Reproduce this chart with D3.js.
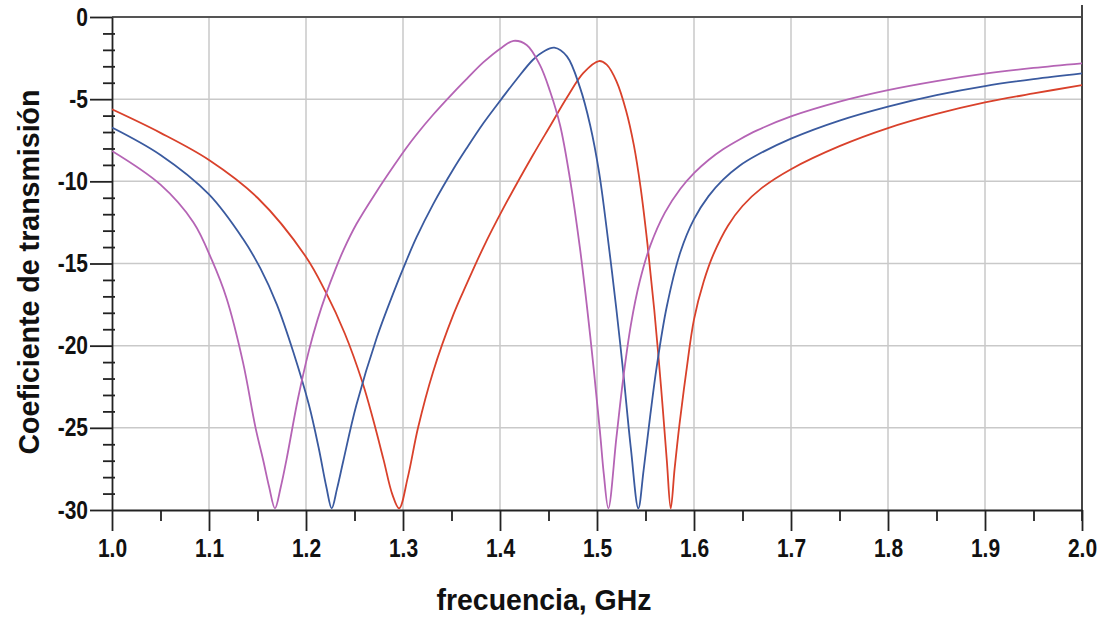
<!DOCTYPE html>
<meta charset="utf-8">
<script src="https://d3js.org/d3.v7.min.js"></script>
<style type="text/css">
body { margin: 0; background: #fff; }
.grid line { stroke: #c9c9c9; stroke-width: 1.5; }
.eixo text { font-family: "Liberation Sans", Arial, sans-serif; font-weight: bold; fill: #111; }
.eixo path, .eixo line { stroke: #222; stroke-width: 1.8; }
.titulo { font-family: "Liberation Sans", Arial, sans-serif; font-weight: bold; fill: #111; }
.curva { fill: none; stroke-width: 1.8; }
</style>
<body>
<div id="canvas"></div>
<script>
// tick labels
var xTicks = [1.0, 1.1, 1.2, 1.3, 1.4, 1.5, 1.6, 1.7, 1.8, 1.9, 2.0];
var xMinor = [1.05, 1.15, 1.25, 1.35, 1.45, 1.55, 1.65, 1.75, 1.85, 1.95];
var yTicks = [0, -5, -10, -15, -20, -25, -30];
var yMinor = [-1, -2, -3, -4, -6, -7, -8, -9, -11, -12, -13, -14, -16, -17, -18, -19, -21, -22, -23, -24, -26, -27, -28, -29];

// series [frecuencia GHz, dB]
var serieRoja = [[1.000,-5.62],[1.050,-7.05],[1.100,-8.7],[1.150,-11.0],[1.200,-14.6],[1.220,-16.7],[1.240,-19.26],[1.258,-22.2],[1.269,-24.45],[1.280,-26.95],[1.289,-29.05],[1.296,-29.9],[1.305,-28.0],[1.3155,-25.0],[1.331,-21.6],[1.352,-18.1],[1.366,-16.2],[1.383,-14.0],[1.402,-11.8],[1.434,-8.4],[1.452,-6.6],[1.469,-4.9],[1.486,-3.4],[1.502,-2.68],[1.510,-2.9],[1.520,-3.9],[1.530,-5.7],[1.538,-7.8],[1.545,-10.4],[1.552,-13.8],[1.559,-17.8],[1.566,-22.5],[1.572,-27.0],[1.576,-29.9],[1.580,-27.5],[1.585,-24.8],[1.592,-21.6],[1.600,-18.4],[1.610,-16.1],[1.620,-14.45],[1.635,-12.7],[1.650,-11.5],[1.670,-10.4],[1.700,-9.26],[1.750,-7.86],[1.800,-6.76],[1.850,-5.9],[1.900,-5.2],[1.950,-4.65],[2.000,-4.15]];
var serieAzul = [[1.000,-6.73],[1.050,-8.4],[1.100,-10.8],[1.135,-13.5],[1.153,-15.3],[1.170,-17.5],[1.187,-20.4],[1.203,-23.6],[1.213,-26.2],[1.221,-28.6],[1.2265,-29.9],[1.232,-28.7],[1.2385,-27.0],[1.252,-23.6],[1.273,-19.5],[1.290,-16.8],[1.303,-14.9],[1.314,-13.4],[1.331,-11.4],[1.352,-9.25],[1.366,-7.95],[1.383,-6.45],[1.402,-4.95],[1.417,-3.8],[1.434,-2.6],[1.445,-2.1],[1.456,-1.87],[1.469,-2.4],[1.4825,-4.3],[1.493,-6.6],[1.502,-9.4],[1.510,-12.9],[1.520,-17.8],[1.527,-21.6],[1.535,-26.3],[1.5426,-29.9],[1.548,-27.6],[1.555,-24.2],[1.5615,-21.3],[1.572,-17.6],[1.586,-14.3],[1.600,-12.3],[1.615,-10.9],[1.630,-9.9],[1.647,-9.05],[1.665,-8.4],[1.700,-7.4],[1.750,-6.3],[1.800,-5.45],[1.850,-4.75],[1.900,-4.2],[1.950,-3.78],[2.000,-3.43]];
var serieMagenta = [[1.000,-8.15],[1.050,-10.2],[1.084,-12.5],[1.103,-14.8],[1.118,-17.1],[1.135,-21.0],[1.148,-25.0],[1.156,-27.0],[1.162,-28.6],[1.168,-29.9],[1.174,-28.6],[1.180,-26.9],[1.1918,-23.2],[1.203,-20.3],[1.212,-18.4],[1.221,-16.8],[1.230,-15.4],[1.2385,-14.2],[1.252,-12.6],[1.273,-10.6],[1.290,-9.1],[1.303,-8.0],[1.314,-7.15],[1.331,-5.95],[1.352,-4.6],[1.366,-3.75],[1.383,-2.75],[1.402,-1.85],[1.414,-1.45],[1.4275,-1.7],[1.441,-2.9],[1.4515,-4.5],[1.462,-6.6],[1.472,-9.8],[1.4825,-14.1],[1.493,-19.4],[1.503,-25.2],[1.507,-27.8],[1.5117,-29.9],[1.520,-25.6],[1.527,-22.0],[1.535,-18.7],[1.544,-16.1],[1.555,-13.9],[1.570,-11.9],[1.586,-10.45],[1.600,-9.5],[1.615,-8.7],[1.630,-8.05],[1.647,-7.45],[1.665,-6.9],[1.700,-6.05],[1.750,-5.15],[1.800,-4.45],[1.850,-3.9],[1.900,-3.45],[1.950,-3.1],[2.000,-2.82]];

var series = [
    { datos: serieRoja, color: "#d9412b" },
    { datos: serieAzul, color: "#3a5a9f" },
    { datos: serieMagenta, color: "#b564b5" }
];

var width = 1099;
var height = 617;
var margin = {top: 17, right: 17, bottom: 107, left: 112};
var estrecho = 0.84; // fonte condensada do original

var svg = d3.select('#canvas')
    .append("svg")
    .attr("width", width)
    .attr("height", height);

var w = width - margin.left - margin.right;
var h = height - margin.top - margin.bottom;

var g = svg.append("g")
    .attr("transform", "translate(" + margin.left + "," + margin.top + ")");

var x = d3.scaleLinear().domain([1.0, 2.0]).range([0, w]);
var y = d3.scaleLinear().domain([-30, 0]).range([h, 0]);

// grid
var grid = g.append("g").attr("class", "grid");
grid.selectAll(".gx")
    .data(xTicks.slice(1, -1))
    .enter().append("line")
    .attr("x1", function(d) { return x(d); })
    .attr("x2", function(d) { return x(d); })
    .attr("y1", 0).attr("y2", h);
grid.selectAll(".gy")
    .data(yTicks.slice(1, -1))
    .enter().append("line")
    .attr("x1", 0).attr("x2", w)
    .attr("y1", function(d) { return y(d); })
    .attr("y2", function(d) { return y(d); });

// marco superior y derecho
g.append("line")
    .attr("x1", 0).attr("x2", w)
    .attr("y1", y(0)).attr("y2", y(0))
    .style("stroke", "#555").style("stroke-width", 2);
g.append("line")
    .attr("x1", x(2)).attr("x2", x(2))
    .attr("y1", y(0) - 12).attr("y2", h + 11)
    .style("stroke", "#444").style("stroke-width", 2);

// eje X
var xAxis = d3.axisBottom(x)
    .tickValues(xTicks)
    .tickFormat(d3.format(".1f"))
    .tickSize(21)
    .tickSizeOuter(0);
var gx = g.append("g")
    .attr("class", "eixo")
    .attr("transform", "translate(0," + h + ")")
    .call(xAxis);
gx.selectAll("text")
    .style("font-size", "25px")
    .attr("y", 47)
    .attr("dy", 0)
    .attr("transform", "scale(" + estrecho + ",1)");

g.append("g")
    .attr("class", "eixo")
    .attr("transform", "translate(0," + h + ")")
    .call(d3.axisBottom(x).tickValues(xMinor).tickSize(11).tickFormat(""))
    .select(".domain").remove();

// eje Y (guion simple, como no original)
var yAxis = d3.axisLeft(y)
    .tickValues(yTicks)
    .tickFormat(function(d) { return String(d); })
    .tickSize(22)
    .tickSizeOuter(0);
var gy = g.append("g")
    .attr("class", "eixo")
    .call(yAxis);
gy.selectAll("text")
    .style("font-size", "25px")
    .attr("x", -24 / estrecho)
    .attr("transform", "scale(" + estrecho + ",1)");

g.append("g")
    .attr("class", "eixo")
    .attr("transform", "translate(3,0)")
    .call(d3.axisLeft(y).tickValues(yMinor).tickSize(12).tickFormat(""))
    .select(".domain").remove();

// curvas
g.append("clipPath").attr("id", "recorte")
    .append("rect").attr("x", 0).attr("y", -5).attr("width", w).attr("height", h + 5);

var line = d3.line()
    .x(function(d) { return x(d[0]); })
    .y(function(d) { return y(d[1]); })
    .curve(d3.curveCatmullRom.alpha(0.5));

g.append("g")
    .attr("clip-path", "url(#recorte)")
    .selectAll(".curva")
    .data(series)
    .enter().append("path")
    .attr("class", "curva")
    .attr("d", function(d) { return line(d.datos); })
    .style("stroke", function(d) { return d.color; });

// titulos
svg.append("text")
    .attr("class", "titulo")
    .attr("x", 544)
    .attr("y", 610)
    .attr("text-anchor", "middle")
    .attr("textLength", 215)
    .attr("lengthAdjust", "spacingAndGlyphs")
    .style("font-size", "30px")
    .text("frecuencia, GHz");

svg.append("text")
    .attr("class", "titulo")
    .attr("transform", "translate(39,272) rotate(-90)")
    .attr("text-anchor", "middle")
    .attr("textLength", 365)
    .attr("lengthAdjust", "spacingAndGlyphs")
    .style("font-size", "30px")
    .text("Coeficiente de transmisión");
</script>
</body>
